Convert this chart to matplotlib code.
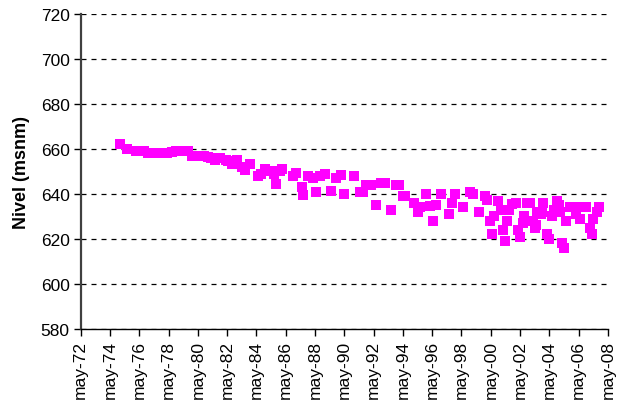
import matplotlib
matplotlib.use("Agg")
import matplotlib.pyplot as plt
import pandas as pd

# Observation dates (year-month) and water level (msnm)
fechas = [
    "1975-01", "1975-07", "1976-02", "1976-05", "1976-09", "1976-12", "1977-03", "1977-07",
    "1977-10", "1978-01", "1978-04", "1978-08", "1978-11", "1979-02", "1979-05", "1979-09",
    "1979-12", "1980-03", "1980-06", "1980-10", "1981-01", "1981-04", "1981-07", "1981-11",
    "1982-04", "1982-06", "1982-09", "1983-01", "1983-05", "1983-08", "1983-12", "1984-06",
    "1984-09", "1984-12", "1985-04", "1985-07", "1985-09", "1985-12", "1986-02", "1986-11",
    "1987-01", "1987-06", "1987-07", "1987-11", "1988-03", "1988-06", "1988-09", "1989-01",
    "1989-06", "1989-10", "1990-02", "1990-05", "1991-01", "1991-06", "1991-08", "1991-11",
    "1992-03", "1992-07", "1992-11", "1993-02", "1993-07", "1993-11", "1994-02", "1994-05",
    "1994-07", "1995-02", "1995-05", "1995-07", "1995-12", "1996-03", "1996-06", "1996-08",
    "1996-12", "1997-07", "1997-09", "1997-12", "1998-06", "1998-12", "1999-02", "1999-07",
    "1999-12", "2000-02", "2000-04", "2000-06", "2000-08", "2000-11", "2001-01", "2001-03",
    "2001-05", "2001-06", "2001-08", "2001-10", "2002-02", "2002-03", "2002-05", "2002-07",
    "2002-08", "2002-11", "2003-01", "2003-04", "2003-05", "2003-06", "2003-07", "2003-10",
    "2003-11", "2003-12", "2004-03", "2004-05", "2004-07", "2004-09", "2004-11", "2005-01",
    "2005-02", "2005-03", "2005-05", "2005-07", "2005-10", "2006-01", "2006-03", "2006-06",
    "2006-09", "2006-11", "2007-02", "2007-04", "2007-05", "2007-08", "2007-10",
]
nivel = [
    662, 660, 659, 659, 659, 658, 658, 658,
    658, 658, 658, 658.5, 659, 659, 659, 659,
    657, 657, 657, 657, 656.5, 656, 655, 656,
    655, 654.5, 653.5, 655, 652, 650.5, 653.5, 648,
    649, 651, 650, 649, 644.5, 650, 651, 648,
    649.5, 643, 639.5, 648, 647, 641, 648, 649,
    641.5, 647, 648.5, 640, 648, 641, 641, 644,
    644, 635, 645, 645, 633, 644, 644, 639,
    639, 636, 632, 634, 640, 634.5, 628, 635,
    640, 631, 636, 640, 634, 641, 640, 632,
    639, 637.5, 628, 622, 630, 637, 633, 624,
    619, 628, 633, 635.5, 636, 624, 621, 627,
    630, 636, 636, 628, 625, 626, 632, 631,
    632, 636, 622, 620, 630, 633, 637, 635,
    632, 618, 616, 628, 634, 634, 631, 629,
    634, 634, 625, 622, 629, 632, 634,
]

y_ticks = [580, 600, 620, 640, 660, 680, 700, 720]
x_tick_years = list(range(1972, 2009, 2))
x_tick_labels = ["may-%02d" % (y % 100) for y in x_tick_years]

plt.rcParams["font.family"] = ["Liberation Sans", "DejaVu Sans"]

fig = plt.figure(figsize=(6.21, 4.14), dpi=100)
ax = fig.add_axes([0.130, 0.203, 0.849, 0.761])

x = pd.to_datetime(fechas, format="%Y-%m")
ax.scatter(x, nivel, marker="s", s=44, color="#FF00FF", linewidths=0, zorder=3)

ticks = [pd.Timestamp(year=y, month=5, day=1) for y in x_tick_years]
ax.set_xlim(ticks[0], ticks[-1])
ax.set_xticks(ticks)
ax.set_xticklabels(x_tick_labels, rotation=90, fontsize=12.5)
ax.set_ylim(580, 720)
ax.set_yticks(y_ticks)
ax.set_yticklabels([str(v) for v in y_ticks], fontsize=12.5)

ax.yaxis.grid(True, linestyle=(0, (4, 4)), color="#000000", linewidth=0.9)
ax.set_axisbelow(True)
for s in ["top", "right"]:
    ax.spines[s].set_visible(False)
ax.spines["left"].set_color("#404040")
ax.spines["left"].set_linewidth(1.6)
ax.spines["bottom"].set_color("#000000")
ax.spines["bottom"].set_linewidth(1.0)
ax.tick_params(axis="both", direction="out", length=5, width=1.0, colors="#000000", pad=3)

ax.set_ylabel("Nivel (msnm)", fontsize=13, fontweight="bold", labelpad=8)

fig.savefig("out.png", dpi=100)
